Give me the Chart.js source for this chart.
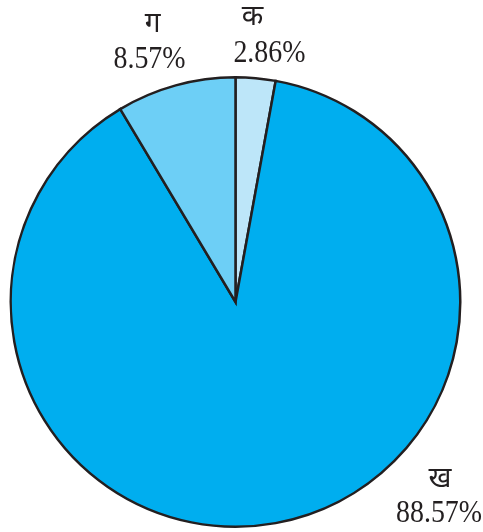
<!DOCTYPE html>
<html>
<head>
<meta charset="utf-8">
<script src="https://cdn.jsdelivr.net/npm/chart.js@4/dist/chart.umd.min.js"></script>
<style>
  html, body { margin: 0; padding: 0; background: #ffffff; }
  #wrap { width: 483px; height: 532px; position: relative; }
</style>
</head>
<body>
<div id="wrap"><canvas id="c"></canvas></div>
<script>
// Slice names and their shares (%)
const categories = ['क', 'ख', 'ग'];
const shares = [2.86, 88.57, 8.57];
const sliceColors = ['#bde6f9', '#00aeef', '#6dcff6'];

// Label placement around the pie: angle (deg, clockwise from 12 o'clock)
// and distance from the centre as a multiple of the radius, for the
// baseline of the percentage text; the slice name sits above it.
const labelAngle = [8.06, 137.2, -20.2];
const labelDist = [1.077, 1.333, 1.108];
const nameShiftX = [-17, 1, 3];
const nameShiftY = [-37, -35, -36];

const labelPlugin = {
  id: 'sliceLabels',
  afterDatasetsDraw(chart) {
    const ctx = chart.ctx;
    const meta = chart.getDatasetMeta(0);
    const arc0 = meta.data[0];
    const cx = arc0.x, cy = arc0.y, r = arc0.outerRadius;
    ctx.save();
    ctx.fillStyle = '#231f20';
    ctx.textAlign = 'center';
    ctx.textBaseline = 'alphabetic';
    meta.data.forEach((arc, i) => {
      const a = labelAngle[i] * Math.PI / 180;
      const x = cx + Math.sin(a) * r * labelDist[i];
      const y = cy - Math.cos(a) * r * labelDist[i];
      ctx.font = '28px "Noto Sans", sans-serif';
      ctx.fillText(categories[i], x + nameShiftX[i], y + nameShiftY[i]);
      // slightly condensed serif figures
      ctx.save();
      ctx.translate(x, y);
      ctx.scale(0.9, 1);
      ctx.font = '31px "Liberation Serif", "Times New Roman", serif';
      ctx.fillText(shares[i].toFixed(2) + '%', 0, 0);
      ctx.restore();
    });
    ctx.restore();
  }
};

new Chart(document.getElementById('c'), {
  type: 'pie',
  data: {
    labels: categories,
    datasets: [{
      data: shares,
      backgroundColor: sliceColors,
      borderColor: '#231f20',
      borderWidth: 2.5,
      borderJoinStyle: 'miter'
    }]
  },
  options: {
    responsive: true,
    maintainAspectRatio: false,
    animation: false,
    layout: { padding: { top: 76, bottom: 4, left: 9, right: 21 } },
    plugins: {
      legend: { display: false },
      tooltip: { enabled: false }
    }
  },
  plugins: [labelPlugin]
});
</script>
</body>
</html>
